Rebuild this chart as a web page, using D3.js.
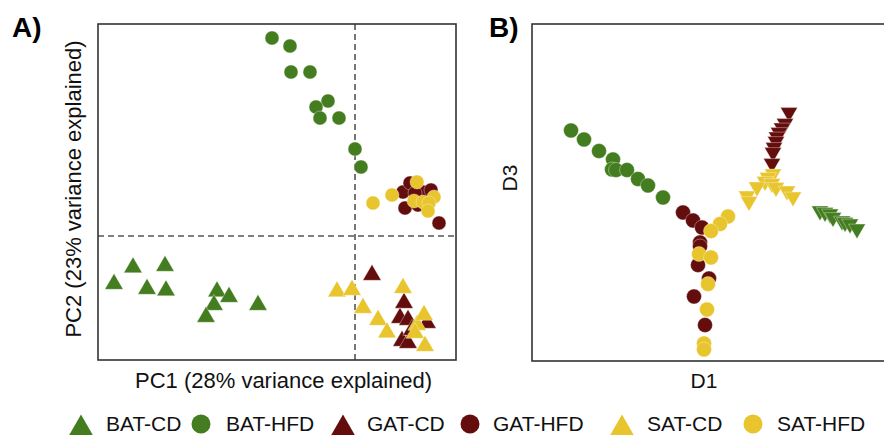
<!DOCTYPE html>
<html><head><meta charset="utf-8">
<script src="https://cdn.jsdelivr.net/npm/d3@7"></script>
<style>html,body{margin:0;padding:0;background:#fff;}svg{display:block;font-family:"Liberation Sans",Arial,sans-serif;}</style>
</head><body>
<svg id="c" width="884" height="435"></svg>
<script>
// Groups & legend
const groups = ["BAT-CD","BAT-HFD","GAT-CD","GAT-HFD","SAT-CD","SAT-HFD"];
const groupShapes = ["tri","circle","tri","circle","tri","circle"];
const groupColors = ["#437d1f","#437d1f","#640d0d","#640d0d","#e8c42d","#e8c42d"];

// Panel A: PCA scores [PC1, PC2]
const pcaBATCD = [[-24.1,-4.8],[-22.2,-3.15],[-19.0,-3.0],[-20.8,-5.3],[-18.9,-5.45],[-13.8,-5.55],[-12.6,-6.1],[-14.1,-6.9],[-9.7,-6.9],[-14.9,-8.1]];
const pcaBATHFD = [[-8.3,19.8],[-6.5,19.0],[-6.4,16.4],[-4.5,16.4],[-2.7,13.5],[-3.9,12.9],[-3.5,11.8],[-1.6,11.8],[0.0,8.7],[0.6,6.9]];
const pcaGATCD = [[1.7,-3.9],[4.9,-6.7],[4.5,-8.2],[5.3,-8.4],[7.2,-8.7],[4.7,-10.5],[5.3,-10.7],[5.7,-9.4]];
const pcaGATHFD = [[4.8,4.4],[5.5,5.3],[5.0,2.8],[6.8,4.4],[6.0,4.3],[8.4,1.3],[6.3,3.1],[7.6,4.6]];
const pcaSATCD = [[-1.8,-5.55],[-0.3,-5.4],[4.8,-5.2],[0.8,-7.2],[2.3,-8.4],[3.2,-9.65],[6.2,-8.9],[6.9,-7.9],[6.0,-9.7],[7.0,-11.0]];
const pcaSATHFD = [[1.8,3.3],[3.7,4.1],[6.2,5.4],[5.9,3.5],[7.9,3.9],[6.8,3.4],[7.4,3.3],[7.3,2.5]];

// Panel B: diffusion map [D1, D3]
const dmBATCD = [[11.8,-1.85],[12.3,-2.0],[12.8,-2.15],[13.1,-2.5],[14.0,-2.85],[14.3,-3.0],[14.8,-3.15],[15.5,-3.65]];
const dmBATHFD = [[-13.1,6.2],[-11.8,5.3],[-10.3,4.15],[-8.9,3.3],[-9.0,2.3],[-8.6,2.25],[-7.5,2.25],[-6.4,1.35],[-5.4,0.7],[-3.9,-0.5]];
const dmGATCD = [[8.7,8.0],[8.3,6.9],[8.0,6.45],[7.7,6.0],[7.5,5.55],[7.4,5.1],[7.2,4.5],[7.1,4.0],[7.0,2.9]];
const dmGATHFD = [[-1.9,-2.0],[-0.9,-2.8],[0.0,-3.5],[-0.2,-5.0],[-0.2,-5.4],[-0.4,-7.25],[0.7,-8.6],[-0.8,-10.4],[0.3,-13.25]];
const dmSATCD = [[7.1,1.85],[6.6,1.5],[6.3,1.1],[7.0,0.9],[5.5,0.55],[7.4,0.5],[4.5,-0.35],[4.7,-0.9],[8.5,0.15],[9.1,-0.45]];
const dmSATHFD = [[2.6,-2.4],[1.8,-3.15],[0.9,-3.85],[-0.3,-6.15],[0.9,-6.5],[0.6,-9.15],[0.5,-11.7],[0.2,-15.1],[0.2,-15.7]];

const pcaData = [pcaBATCD,pcaBATHFD,pcaGATCD,pcaGATHFD,pcaSATCD,pcaSATHFD];
const dmData = [dmBATCD,dmBATHFD,dmGATCD,dmGATHFD,dmSATCD,dmSATHFD];

const svg = d3.select("#c");

// ---------- Panel A ----------
const xA = d3.scaleLinear().domain([-25.7,10.1]).range([98,456]);
const yA = d3.scaleLinear().domain([-12.4,21.2]).range([360,24]);
const gA = svg.append("g");
gA.append("line").attr("x1",xA(0)).attr("x2",xA(0)).attr("y1",yA.range()[0]).attr("y2",yA.range()[1])
  .attr("stroke","#555").attr("stroke-width",1.6).attr("stroke-dasharray","6,4");
gA.append("line").attr("x1",xA.range()[0]).attr("x2",xA.range()[1]).attr("y1",yA(0)).attr("y2",yA(0))
  .attr("stroke","#555").attr("stroke-width",1.6).attr("stroke-dasharray","6,4");

const triA = d3.symbol().type(d3.symbolTriangle).size(145);
pcaData.forEach((pts,i)=>{
  const sel = gA.selectAll(null).data(pts).enter();
  if(groupShapes[i]==="circle"){
    sel.append("circle").attr("cx",d=>xA(d[0])).attr("cy",d=>yA(d[1])).attr("r",7)
      .attr("fill",groupColors[i]).attr("stroke","#fff").attr("stroke-opacity",0.5).attr("stroke-width",0.7);
  } else {
    sel.append("path").attr("d",triA).attr("transform",d=>`translate(${xA(d[0])},${yA(d[1])})`)
      .attr("fill",groupColors[i]).attr("stroke","#fff").attr("stroke-opacity",0.5).attr("stroke-width",0.7);
  }
});
gA.append("rect").attr("x",xA.range()[0]).attr("y",yA.range()[1])
  .attr("width",xA.range()[1]-xA.range()[0]).attr("height",yA.range()[0]-yA.range()[1])
  .attr("fill","none").attr("stroke","#333").attr("stroke-width",1.6);
gA.append("text").attr("x",12).attr("y",37).attr("font-weight","bold").attr("font-size",28).text("A)");
gA.append("text").attr("x",135).attr("y",388).attr("font-size",22).attr("fill","#111").text("PC1 (28% variance explained)");
gA.append("text").attr("transform","translate(81,189) rotate(-90)").attr("text-anchor","middle")
  .attr("font-size",22).attr("fill","#111").text("PC2 (23% variance explained)");

// ---------- Panel B ----------
const xB = d3.scaleLinear().domain([-17,19.8]).range([532,900]);
const yB = d3.scaleLinear().domain([-16.85,16.85]).range([361,24]);
const gB = svg.append("g");
const triB = d3.symbol().type(d3.symbolTriangle).size(125);
dmData.forEach((pts,i)=>{
  const sel = gB.selectAll(null).data(pts).enter();
  if(groupShapes[i]==="circle"){
    sel.append("circle").attr("cx",d=>xB(d[0])).attr("cy",d=>yB(d[1])).attr("r",7.5)
      .attr("fill",groupColors[i]).attr("stroke","#fff").attr("stroke-opacity",0.5).attr("stroke-width",0.7);
  } else {
    sel.append("path").attr("d",triB).attr("transform",d=>`translate(${xB(d[0])},${yB(d[1])}) rotate(180)`)
      .attr("fill",groupColors[i]).attr("stroke","#fff").attr("stroke-opacity",0.5).attr("stroke-width",0.7);
  }
});
gB.append("rect").attr("x",xB.range()[0]).attr("y",yB.range()[1])
  .attr("width",xB.range()[1]-xB.range()[0]).attr("height",yB.range()[0]-yB.range()[1])
  .attr("fill","none").attr("stroke","#333").attr("stroke-width",1.6);
gB.append("text").attr("x",489).attr("y",37).attr("font-weight","bold").attr("font-size",28).text("B)");
gB.append("text").attr("x",704).attr("y",388).attr("text-anchor","middle").attr("font-size",21).attr("fill","#111").text("D1");
gB.append("text").attr("transform","translate(517,178) rotate(-90)").attr("text-anchor","middle")
  .attr("font-size",21).attr("fill","#111").text("D3");

// ---------- Legend ----------
const legendMarkX = [81,201,343,470,622,753];
const legendTextX = [106,226,367,493,647,777];
const triL = d3.symbol().type(d3.symbolTriangle).size(270);
const gL = svg.append("g");
groups.forEach((g,i)=>{
  if(groupShapes[i]==="circle"){
    gL.append("circle").attr("cx",legendMarkX[i]).attr("cy",424).attr("r",9.5).attr("fill",groupColors[i]);
  } else {
    gL.append("path").attr("d",triL).attr("transform",`translate(${legendMarkX[i]},429)`).attr("fill",groupColors[i]);
  }
  gL.append("text").attr("x",legendTextX[i]).attr("y",431).attr("font-size",21).attr("fill","#111").text(g);
});
</script>
</body></html>
